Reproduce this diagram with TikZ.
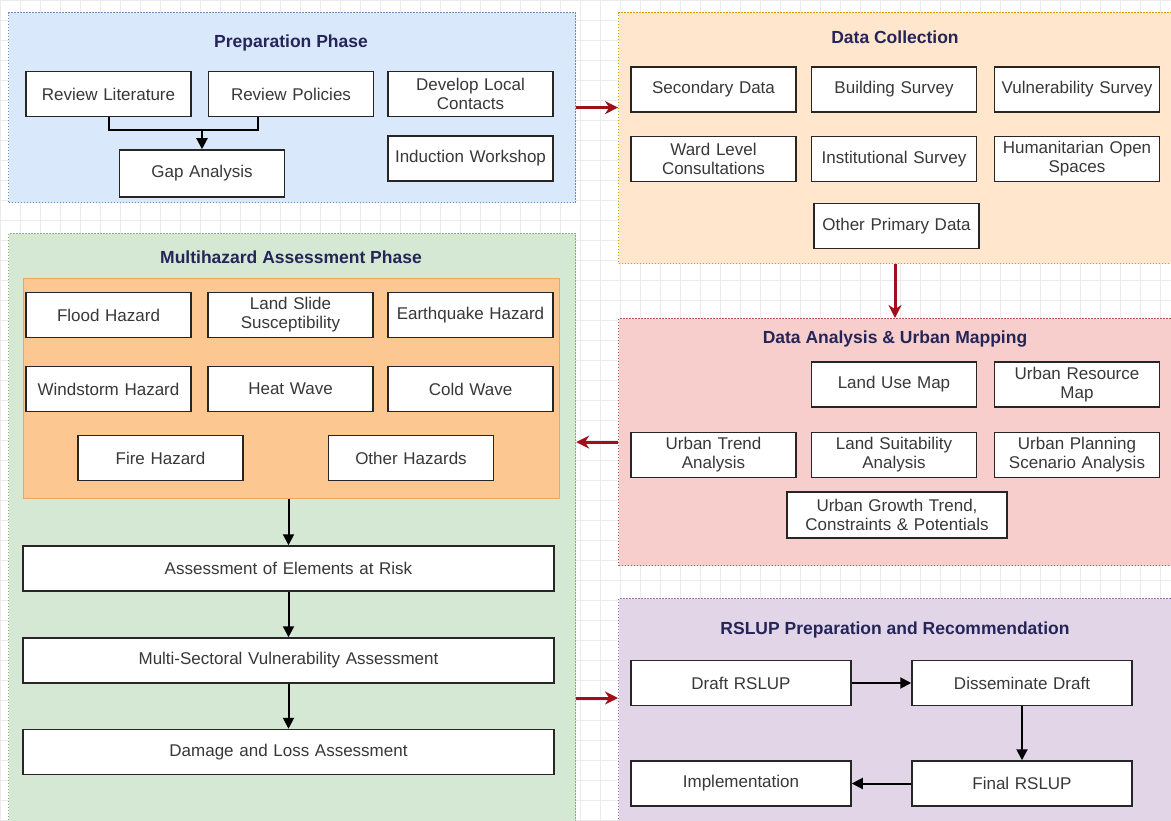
\documentclass[tikz,border=0pt]{standalone}
\usepackage{fontspec}
\setmainfont{Liberation Sans}
\usetikzlibrary{arrows.meta}
\definecolor{prepfill}{HTML}{DAE8FC}
\definecolor{prepline}{HTML}{6C8EBF}
\definecolor{dcfill}{HTML}{FFE6CC}
\definecolor{dcline}{HTML}{D79B00}
\definecolor{mhfill}{HTML}{D5E8D4}
\definecolor{mhline}{HTML}{82B366}
\definecolor{dafill}{HTML}{F8CECC}
\definecolor{daline}{HTML}{B85450}
\definecolor{rsfill}{HTML}{E1D5E7}
\definecolor{rsline}{HTML}{9673A6}
\definecolor{hazfill}{HTML}{FDC792}
\definecolor{hazline}{HTML}{EFA55E}
\definecolor{titlecol}{HTML}{25255A}
\definecolor{txtcol}{HTML}{383838}
\definecolor{redarr}{HTML}{A0101A}
\definecolor{gridc}{HTML}{EBEBEB}
\begin{document}
\begin{tikzpicture}[x=1pt,y=-1pt,
  panel/.style={dash pattern=on 1.5pt off 1.5pt, line width=1.2pt, inner sep=0pt, anchor=north west},
  box/.style={draw=black!85, fill=white, line width=1.5pt, minimum width=165pt, minimum height=45pt,
    text width=162pt, align=center, inner sep=1pt, text=txtcol, font=\fontsize{17}{19}\selectfont},
  widebox/.style={box, minimum width=531pt, text width=520pt},
  ptitle/.style={font=\fontsize{17.5}{20}\selectfont\bfseries, text=titlecol, inner sep=0pt},
  plainline/.style={line width=2pt, draw=black},
  blk/.style={line width=2pt, draw=black, -{Triangle[length=11pt,width=11pt]}},
  redlink/.style={line width=3pt, draw=redarr, -{Stealth[length=13pt,width=13pt]}}
]
\useasboundingbox (0,0) rectangle (1171,821);
\clip (0,0) rectangle (1171,821);
\fill[white] (0,0) rectangle (1171,821);
\foreach \g in {0,20,...,1180} \draw[gridc, line width=0.7pt] (\g,0) -- (\g,821);
\foreach \g in {0,20,...,820} \draw[gridc, line width=0.7pt] (0,\g) -- (1171,\g);

% ---------- panels ----------
\node[panel, draw=prepline, fill=prepfill, minimum width=567pt, minimum height=190pt] (prep) at (8,12) {};
\node[panel, draw=dcline, fill=dcfill, minimum width=562pt, minimum height=251pt] (dc) at (618,12) {};
\node[panel, draw=mhline, fill=mhfill, minimum width=567pt, minimum height=597pt] (mh) at (8,233) {};
\node[panel, draw=daline, fill=dafill, minimum width=562pt, minimum height=247pt] (da) at (618,318) {};
\node[panel, draw=rsline, fill=rsfill, minimum width=562pt, minimum height=232pt] (rs) at (618,598) {};

% ---------- titles ----------
\node[ptitle] (tprep) at (291,43) {Preparation Phase};
\node[ptitle] (tdc) at (895,37) {Data Collection};
\node[ptitle] (tmh) at (291,257) {Multihazard Assessment Phase};
\node[ptitle] (tda) at (895,339) {Data Analysis \& Urban Mapping};
\node[ptitle] (trs) at (895,630) {RSLUP Preparation and Recommendation};

% ---------- preparation ----------
\node[box] (revlit) at (108.5,94) {Review Literature};
\node[box] (revpol) at (291,94) {Review Policies};
\node[box] (devloc) at (470.5,94) {Develop Local\\Contacts};
\node[box] (induct) at (470.5,158.5) {Induction Workshop};
\node[box, minimum height=47pt] (gap) at (202,173.5) {Gap Analysis};
\coordinate (gapj) at (202,130);
\draw[plainline] (revlit.south) -- (revlit.south |- gapj) -- ([xshift=-33pt]revpol.south |- gapj) -- ([xshift=-33pt]revpol.south);
\draw[blk] (gapj) -- (gap.north);

% ---------- data collection ----------
\node[box] (sec) at (713.5,89.5) {Secondary Data};
\node[box] (bld) at (894,89.5) {Building Survey};
\node[box] (vul) at (1077,89.5) {Vulnerability Survey};
\node[box] (ward) at (713.5,159) {Ward Level\\Consultations};
\node[box] (inst) at (894,159) {Institutional Survey};
\node[box] (hum) at (1077,159) {Humanitarian Open\\Spaces};
\node[box] (oth) at (896.5,226) {Other Primary Data};

% ---------- multihazard ----------
\node[panel, draw=hazline, fill=hazfill, solid, line width=1pt, minimum width=536pt, minimum height=220pt] (haz) at (23,278) {};
\node[box] (flood) at (108.5,315) {Flood Hazard};
\node[box] (land) at (290.5,315) {Land Slide\\Susceptibility};
\node[box] (eq) at (470.5,315) {Earthquake Hazard};
\node[box] (wind) at (108.5,389) {Windstorm Hazard};
\node[box] (heat) at (290.5,389) {Heat Wave};
\node[box] (cold) at (470.5,389) {Cold Wave};
\node[box] (fire) at (160.5,458) {Fire Hazard};
\node[box] (othh) at (411,458) {Other Hazards};
\node[widebox] (assess) at (288.5,568.5) {Assessment of Elements at Risk};
\node[widebox] (multi) at (288.5,660.5) {Multi-Sectoral Vulnerability Assessment};
\node[widebox] (damage) at (288.5,752) {Damage and Loss Assessment};
\draw[blk] (haz.south -| assess.north) -- (assess.north);
\draw[blk] (assess.south) -- (multi.north);
\draw[blk] (multi.south) -- (damage.north);

% ---------- data analysis ----------
\node[box] (landuse) at (894,384.5) {Land Use Map};
\node[box] (resource) at (1077,384.5) {Urban Resource\\Map};
\node[box] (trend) at (713.5,455) {Urban Trend\\Analysis};
\node[box] (suit) at (894,455) {Land Suitability\\Analysis};
\node[box] (plan) at (1077,455) {Urban Planning\\Scenario Analysis};
\node[box, minimum width=220pt, text width=214pt, minimum height=46pt] (growth) at (897,515) {Urban Growth Trend,\\Constraints \& Potentials};

% ---------- RSLUP ----------
\node[box, minimum width=220pt, text width=214pt] (draft) at (741,683) {Draft RSLUP};
\node[box, minimum width=220pt, text width=214pt] (diss) at (1022,683) {Disseminate Draft};
\node[box, minimum width=220pt, text width=214pt] (final) at (1022,783.5) {Final RSLUP};
\node[box, minimum width=220pt, text width=214pt] (impl) at (741,783.5) {Implementation};
\draw[blk] (draft.east) -- (diss.west);
\draw[blk] (diss.south) -- (final.north);
\draw[blk] (final.west) -- (impl.east);

% ---------- phase links ----------
\coordinate (rsy) at (0,698);
\draw[redlink] (prep.east) -- (dc.west |- prep.east);
\draw[redlink] (dc.south -| tdc) -- (da.north -| tdc);
\draw[redlink] (da.west) -- (mh.east |- da.west);
\draw[redlink] (mh.east |- rsy) -- (rs.west |- rsy);
\end{tikzpicture}
\end{document}
